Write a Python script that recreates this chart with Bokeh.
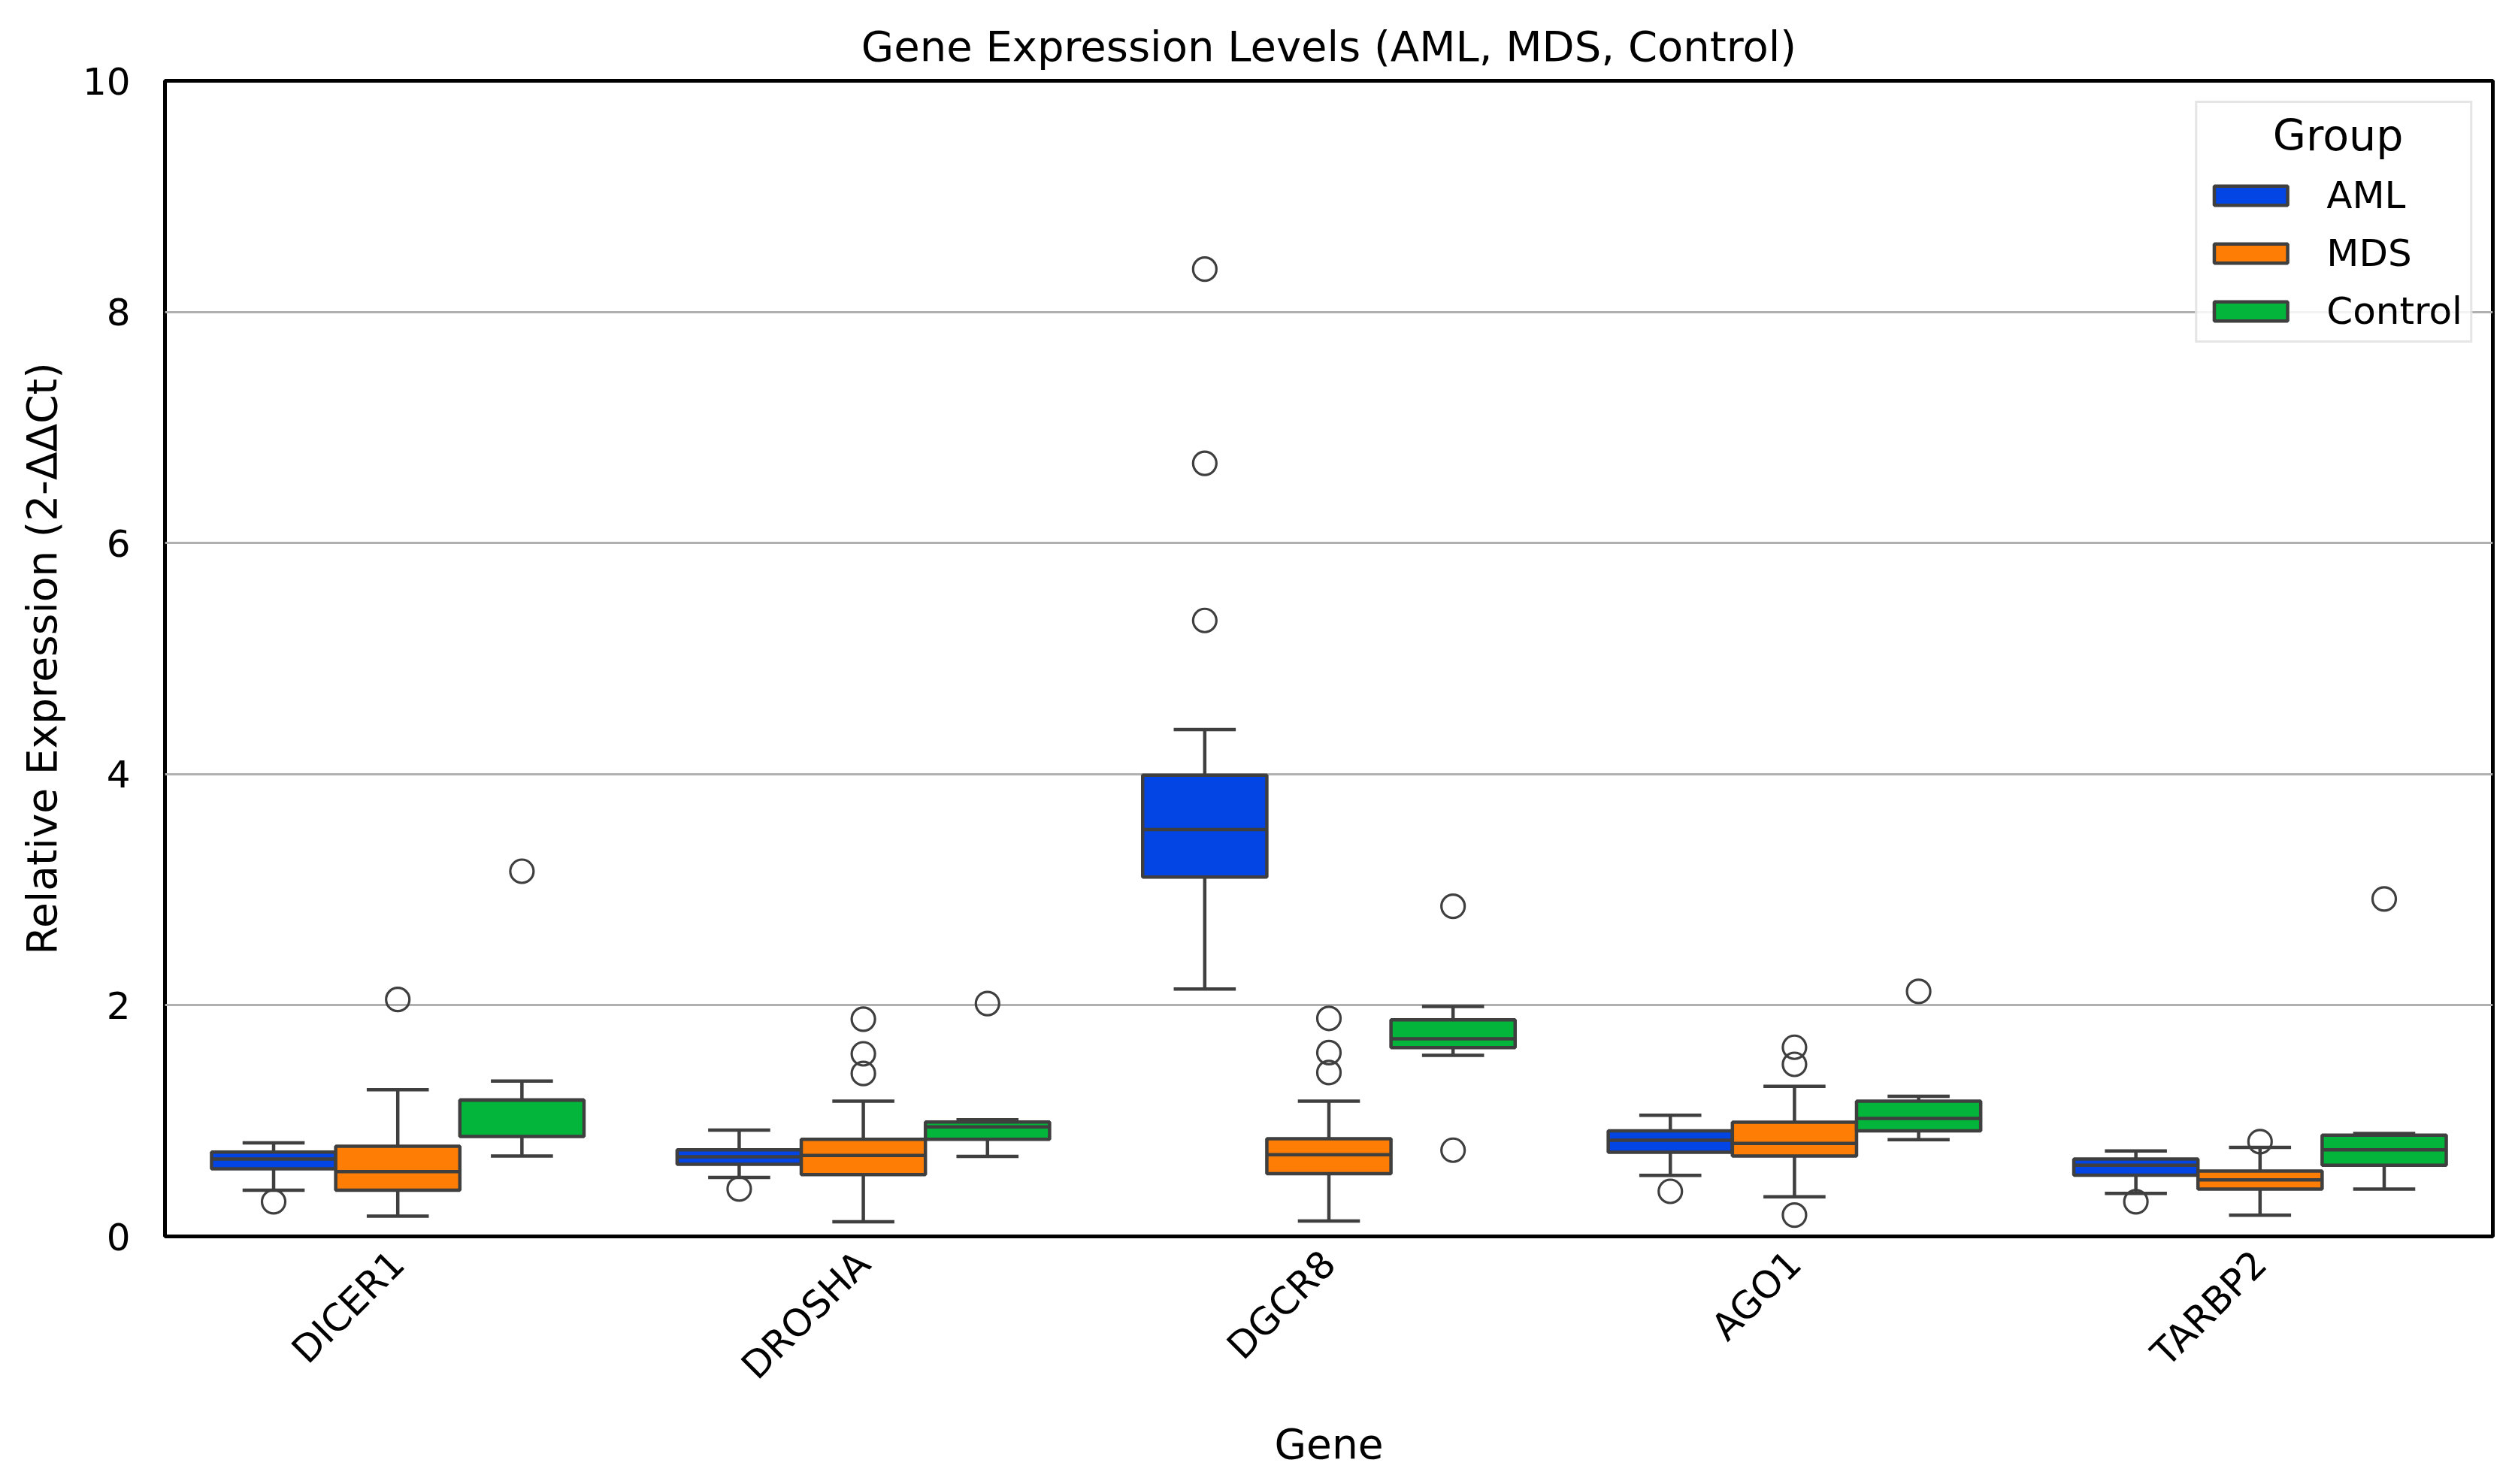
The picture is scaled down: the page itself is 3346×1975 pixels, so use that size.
from math import pi
from bokeh.plotting import figure
from bokeh.models import ColumnDataSource, Range1d, FixedTicker, Legend, LegendItem
from bokeh.embed import file_html
from bokeh.resources import INLINE

# ---------------- data ----------------
genes = ["DICER1", "DROSHA", "DGCR8", "AGO1", "TARBP2"]
groups = ["AML", "MDS", "Control"]
y_ticks = [0, 2, 4, 6, 8, 10]

aml_q1 = [0.585, 0.624, 3.11, 0.728, 0.53]
aml_med = [0.67, 0.69, 3.52, 0.833, 0.616]
aml_q3 = [0.73, 0.75, 3.99, 0.913, 0.67]
aml_wlo = [0.40, 0.51, 2.14, 0.528, 0.372]
aml_whi = [0.81, 0.92, 4.385, 1.048, 0.74]
aml_out_gene = ["DICER1", "DROSHA", "DGCR8", "DGCR8", "DGCR8", "AGO1", "TARBP2"]
aml_out_val = [0.30, 0.41, 5.33, 6.69, 8.37, 0.39, 0.30]

mds_q1 = [0.40, 0.535, 0.543, 0.696, 0.41]
mds_med = [0.56, 0.70, 0.707, 0.804, 0.49]
mds_q3 = [0.78, 0.84, 0.845, 0.989, 0.566]
mds_wlo = [0.175, 0.126, 0.134, 0.343, 0.184]
mds_whi = [1.27, 1.17, 1.17, 1.298, 0.77]
mds_out_gene = ["DICER1", "DROSHA", "DROSHA", "DROSHA", "DGCR8", "DGCR8", "DGCR8",
                "AGO1", "AGO1", "AGO1", "TARBP2"]
mds_out_val = [2.05, 1.41, 1.58, 1.88, 1.418, 1.59, 1.887, 0.185, 1.489, 1.637, 0.82]

ctl_q1 = [0.865, 0.84, 1.633, 0.913, 0.616]
ctl_med = [1.18, 0.947, 1.71, 1.02, 0.75]
ctl_q3 = [1.18, 0.99, 1.875, 1.17, 0.876]
ctl_wlo = [0.695, 0.693, 1.567, 0.837, 0.41]
ctl_whi = [1.345, 1.01, 1.99, 1.213, 0.89]
ctl_out_gene = ["DICER1", "DROSHA", "DGCR8", "DGCR8", "AGO1", "TARBP2"]
ctl_out_val = [3.16, 2.015, 0.746, 2.857, 2.12, 2.92]

colors = ["#0244e4", "#fd7d05", "#03b53a"]
EDGE = "#3f3f3f"
FONT = "DejaVu Sans"

stats = {
    "AML": (aml_q1, aml_med, aml_q3, aml_wlo, aml_whi, aml_out_gene, aml_out_val),
    "MDS": (mds_q1, mds_med, mds_q3, mds_wlo, mds_whi, mds_out_gene, mds_out_val),
    "Control": (ctl_q1, ctl_med, ctl_q3, ctl_wlo, ctl_whi, ctl_out_gene, ctl_out_val),
}

BOXW = 0.8 / 3
CAPW = BOXW / 2
offsets = [-BOXW, 0.0, BOXW]

p = figure(width=3330, height=1959, output_backend="svg", toolbar_location=None,
           x_range=Range1d(-0.5, 4.5), y_range=Range1d(0, 10),
           min_border_left=219, min_border_right=14, min_border_top=107,
           min_border_bottom=314,
           title="Gene Expression Levels (AML, MDS, Control)")

p.background_fill_color = "white"
p.border_fill_color = "white"
p.outline_line_color = "black"
p.outline_line_width = 5

p.title.text_font = FONT
p.title.text_font_size = "56px"
p.title.text_font_style = "normal"
p.title.text_color = "black"
p.title.align = "center"
p.title.standoff = 28

p.xgrid.grid_line_color = None
p.ygrid.grid_line_color = "#b0b0b0"
p.ygrid.grid_line_width = 3
p.ygrid.ticker = FixedTicker(ticks=y_ticks)

for ax in (p.xaxis[0], p.yaxis[0]):
    ax.axis_line_color = None
    ax.major_tick_line_color = None
    ax.minor_tick_line_color = None
    ax.major_tick_out = 0
    ax.major_tick_in = 0
    ax.major_label_text_font = FONT
    ax.major_label_text_font_size = "50px"
    ax.major_label_text_color = "black"
    ax.axis_label_text_font = FONT
    ax.axis_label_text_font_size = "55px"
    ax.axis_label_text_font_style = "normal"
    ax.axis_label_text_color = "black"

p.yaxis.ticker = FixedTicker(ticks=y_ticks)
p.yaxis.major_label_standoff = 46
p.yaxis.axis_label = "Relative Expression (2-ΔΔCt)"
p.yaxis.axis_label_standoff = 19

p.xaxis.ticker = FixedTicker(ticks=list(range(len(genes))))
p.xaxis.major_label_overrides = {i: g for i, g in enumerate(genes)}
p.xaxis.major_label_orientation = pi / 4
p.xaxis.major_label_standoff = 28
p.xaxis.axis_label = "Gene"
p.xaxis.axis_label_standoff = 20

legend_items = []
for gi, grp in enumerate(groups):
    q1, med, q3, wlo, whi, og, ov = stats[grp]
    xs = [i + offsets[gi] for i in range(len(genes))]
    src = ColumnDataSource(dict(
        x=xs, q1=q1, med=med, q3=q3, wlo=wlo, whi=whi,
        xl=[x - BOXW / 2 for x in xs], xr=[x + BOXW / 2 for x in xs],
        cl=[x - CAPW / 2 for x in xs], cr=[x + CAPW / 2 for x in xs],
    ))
    # whiskers
    p.segment(x0="x", y0="q3", x1="x", y1="whi", source=src, line_color=EDGE, line_width=4.5)
    p.segment(x0="x", y0="q1", x1="x", y1="wlo", source=src, line_color=EDGE, line_width=4.5)
    # caps
    p.segment(x0="cl", y0="whi", x1="cr", y1="whi", source=src, line_color=EDGE, line_width=4.5)
    p.segment(x0="cl", y0="wlo", x1="cr", y1="wlo", source=src, line_color=EDGE, line_width=4.5)
    # boxes
    r = p.vbar(x="x", width=BOXW, bottom="q1", top="q3", source=src,
               fill_color=colors[gi], line_color=EDGE, line_width=4.5)
    # medians
    p.segment(x0="xl", y0="med", x1="xr", y1="med", source=src, line_color=EDGE, line_width=4.5)
    # outliers
    osrc = ColumnDataSource(dict(
        x=[genes.index(g) + offsets[gi] for g in og], y=ov))
    p.scatter(x="x", y="y", source=osrc, marker="circle", size=31,
              fill_color=None, line_color=EDGE, line_width=3.2)
    legend_items.append(LegendItem(label=grp, renderers=[r]))

legend = Legend(items=legend_items, location="top_right",
                title="\u00a0\u00a0\u00a0\u00a0\u00a0Group")
legend.title_text_font = FONT
legend.title_text_font_size = "57px"
legend.title_text_font_style = "normal"
legend.title_text_color = "black"
legend.title_standoff = 18
legend.label_text_font = FONT
legend.label_text_font_size = "50px"
legend.label_text_color = "black"
legend.label_height = 50
legend.glyph_width = 122
legend.glyph_height = 32
legend.label_standoff = 40
legend.spacing = 19
legend.padding = 10
legend.margin = 27
legend.border_line_color = "#cccccc"
legend.border_line_width = 3
legend.background_fill_color = "white"
legend.background_fill_alpha = 0.85
p.add_layout(legend)

open("out.html", "w").write(file_html(p, INLINE))
